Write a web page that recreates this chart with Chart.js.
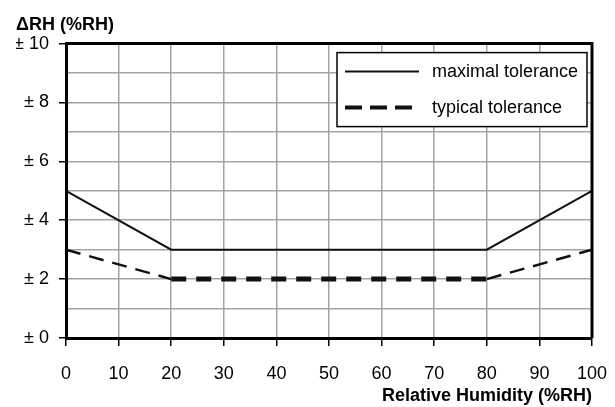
<!DOCTYPE html>
<html>
<head>
<meta charset="utf-8">
<script src="https://cdn.jsdelivr.net/npm/chart.js@4/dist/chart.umd.min.js"></script>
<style>
  html, body { margin: 0; padding: 0; background: #fff; }
  #wrap { width: 615px; height: 407px; }
</style>
</head>
<body>
<div id="wrap"><canvas id="rhChart" width="615" height="407"></canvas></div>
<script>
// ---------------------------------------------------------------------------
// Data
// ---------------------------------------------------------------------------
const humidity   = [0, 20, 80, 100];   // %RH
const maxTol     = [5, 3, 3, 5];       // ± %RH
const typTol     = [3, 2, 2, 3];       // ± %RH
const xTicks     = [0, 10, 20, 30, 40, 50, 60, 70, 80, 90, 100];
const yLabelStep = 2;

const FONT = "'Liberation Sans', Arial, sans-serif";
const GRID = "#a4a4a4";
const INK  = "#111";

const points = ys => humidity.map((x, i) => ({ x, y: ys[i] }));

// frame on top/right edges (left/bottom come from the scale borders)
const framePlugin = {
  id: "frame",
  afterDatasetsDraw(chart) {
    const { ctx, chartArea: a } = chart;
    ctx.save();
    ctx.strokeStyle = "#000";
    ctx.lineWidth = 3;
    ctx.beginPath();
    ctx.moveTo(a.left, a.top);
    ctx.lineTo(a.right, a.top);
    ctx.lineTo(a.right, a.bottom);
    ctx.stroke();
    ctx.restore();
  },
};

// boxed legend in the upper right of the plot
const boxLegend = {
  id: "boxLegend",
  afterDraw(chart) {
    const { ctx, chartArea: a } = chart;
    const w = 250, h = 74;
    const left = a.right - 5 - w, top = a.top + 9;
    ctx.save();
    ctx.fillStyle = "#fff";
    ctx.fillRect(left, top, w, h);
    ctx.strokeStyle = "#000";
    ctx.lineWidth = 1.5;
    ctx.strokeRect(left, top, w, h);

    const rows = [top + 19, top + 55];
    chart.data.datasets.forEach((ds, i) => {
      const y = rows[i];
      ctx.beginPath();
      ctx.strokeStyle = ds.borderColor;
      ctx.lineWidth = ds.legendWidth;
      ctx.setLineDash(ds.legendDash || []);
      ctx.moveTo(left + 8, y);
      ctx.lineTo(left + 82, y);
      ctx.stroke();
      ctx.setLineDash([]);
      ctx.fillStyle = "#000";
      ctx.font = `18px ${FONT}`;
      ctx.textBaseline = "middle";
      ctx.textAlign = "left";
      ctx.fillText(ds.label, left + 95, y);
    });
    ctx.restore();
  },
};

new Chart(document.getElementById("rhChart"), {
  type: "line",
  data: {
    datasets: [
      {
        label: "maximal tolerance",
        data: points(maxTol),
        borderColor: INK,
        borderWidth: 2,
        pointRadius: 0,
        tension: 0,
        legendWidth: 2,
      },
      {
        label: "typical tolerance",
        data: points(typTol),
        borderColor: INK,
        borderWidth: 2.5,
        borderDash: [15, 9],
        pointRadius: 0,
        tension: 0,
        legendWidth: 4,
        legendDash: [17, 8],
        segment: {
          borderWidth: c => (c.p0DataIndex === 1 ? 5 : 2.5),
          borderDash:  c => (c.p0DataIndex === 1 ? [15, 10] : [15, 9]),
        },
      },
    ],
  },
  options: {
    responsive: false,
    animation: false,
    events: [],
    layout: { padding: { left: 16, right: 23, top: 4, bottom: 0 } },
    plugins: {
      legend: { display: false },
      tooltip: { enabled: false },
      title: {
        display: true,
        text: "ΔRH (%RH)",
        align: "start",
        color: "#000",
        font: { family: FONT, size: 18, weight: "bold" },
        padding: { top: 10, bottom: 8 },
      },
    },
    scales: {
      x: {
        type: "linear",
        min: 0,
        max: 100,
        afterBuildTicks: s => { s.ticks = xTicks.map(v => ({ value: v })); },
        afterFit: s => { s.height = 69; s.paddingLeft = 0; s.paddingRight = 0; },
        grid: { color: GRID, lineWidth: 1.5, tickColor: "#000", tickWidth: 1.5, tickLength: 8 },
        border: { color: "#000", width: 3 },
        ticks: { color: "#000", padding: 17, font: { family: FONT, size: 18 }, maxRotation: 0 },
        title: {
          display: true,
          text: "Relative Humidity (%RH)",
          align: "end",
          color: "#000",
          font: { family: FONT, size: 18, weight: "bold" },
          padding: { top: 1, bottom: 0 },
        },
      },
      y: {
        min: 0,
        max: 10,
        afterFit: s => { s.width = 50; },
        grid: {
          color: GRID,
          lineWidth: 1.5,
          tickWidth: 1.5,
          tickLength: 7,
          tickColor: c => (c.tick && c.tick.value % yLabelStep === 0 ? "#000" : "rgba(0,0,0,0)"),
        },
        border: { color: "#000", width: 3 },
        ticks: {
          stepSize: 1,
          color: "#000",
          padding: 10,
          font: { family: FONT, size: 18 },
          callback: v => (v % yLabelStep === 0 ? "± " + v : ""),
        },
      },
    },
  },
  plugins: [framePlugin, boxLegend],
});
</script>
</body>
</html>
